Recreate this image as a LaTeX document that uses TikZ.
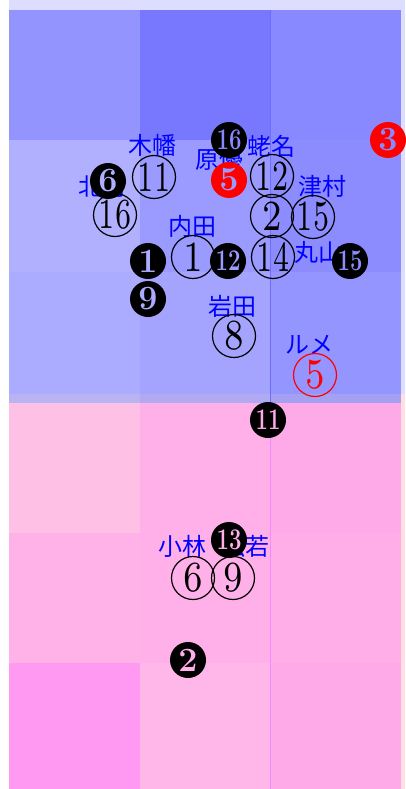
\documentclass[tikz,border=0pt]{standalone}
\usepackage{fontspec}
\usepackage{graphicx}
\newfontfamily\jpfont{Noto Sans CJK JP}
\newfontfamily\digfont{lmroman7-regular.otf}
\definecolor{lav}{HTML}{DDDDFF}
\definecolor{lpink}{HTML}{FFDFE2}
\definecolor{ba}{HTML}{9494FF}
\definecolor{bb}{HTML}{7878FF}
\definecolor{bc}{HTML}{8989FF}
\definecolor{bd}{HTML}{B0B0FF}
\definecolor{be}{HTML}{9A9AFF}
\definecolor{bf}{HTML}{8C8CFF}
\definecolor{bg}{HTML}{ABABFF}
\definecolor{bh}{HTML}{A4A4FF}
\definecolor{bi}{HTML}{9595FF}
\definecolor{xa}{HTML}{B8B4F4}
\definecolor{xb}{HTML}{B0AAF0}
\definecolor{xc}{HTML}{A4A0F2}
\definecolor{pa}{HTML}{FFC0E6}
\definecolor{pb}{HTML}{FFB0E8}
\definecolor{pc}{HTML}{FFAAE8}
\definecolor{pd}{HTML}{FFB2E8}
\definecolor{pe}{HTML}{FFB0E8}
\definecolor{pf}{HTML}{FFAEE8}
\definecolor{pg}{HTML}{FF99F2}
\definecolor{ph}{HTML}{FFB6E8}
\definecolor{pi}{HTML}{FFAAE8}
\definecolor{bline}{HTML}{6C6CFF}
\definecolor{pline}{HTML}{F08AFF}
\newcommand\onedig[1]{\makebox[0pt]{\scalebox{0.8}[1]{#1}}}
\newcommand\twodig[1]{\makebox[0pt]{\scalebox{0.66}[1]{#1}}}
\newcommand\fone[1]{\makebox[0pt]{#1}}
\newcommand\ftwo[1]{\makebox[0pt]{\fontsize{30}{30}\selectfont\scalebox{0.74}[1]{#1}}}
\begin{document}
\begin{tikzpicture}[x=1pt,y=-1pt,
  lbl/.style={text=blue,font=\jpfont\fontsize{24}{24}\selectfont,inner sep=0pt},
  oc/.style={circle,draw=black,line width=1.2pt,minimum size=43pt,inner sep=0pt,font=\digfont\fontsize{43}{43}\selectfont},
  fc/.style={circle,fill=black,minimum size=36pt,inner sep=0pt,font=\bfseries\fontsize{34}{34}\selectfont},
  rfc/.style={fc,fill=red},
  roc/.style={oc,draw=red,text=red}]
\useasboundingbox (0,0) rectangle (405,789);
% backgrounds
\fill[lav] (9,0) rectangle (405,394);
\fill[lpink] (9,394) rectangle (405,789);
% blue cells
\fill[ba] (9,10) rectangle (140,140);
\fill[bb] (140,10) rectangle (270,140);
\fill[bc] (270,10) rectangle (401,140);
\fill[bd] (9,140) rectangle (140,272);
\fill[be] (140,140) rectangle (270,272);
\fill[bf] (270,140) rectangle (401,272);
\fill[bg] (9,272) rectangle (140,394);
\fill[bh] (140,272) rectangle (270,394);
\fill[bi] (270,272) rectangle (401,394);
\fill[xa] (9,394) rectangle (140,403);
\fill[xb] (140,394) rectangle (270,403);
\fill[xc] (270,394) rectangle (401,403);
% pink cells
\fill[pa] (9,403) rectangle (140,533);
\fill[pb] (140,403) rectangle (270,533);
\fill[pc] (270,403) rectangle (401,533);
\fill[pd] (9,533) rectangle (140,663);
\fill[pe] (140,533) rectangle (270,663);
\fill[pf] (270,533) rectangle (401,663);
\fill[pg] (9,663) rectangle (140,789);
\fill[ph] (140,663) rectangle (270,789);
\fill[pi] (270,663) rectangle (401,789);
\draw[bline,line width=0.8pt] (270,10) -- (270,403);
\draw[pline,line width=0.8pt] (270,403) -- (270,789);
% labels
\node[lbl] (kohata) at (152,145) {木幡};
\node[lbl] (ebina) at (271,146) {蛯名};
\node[lbl] (hara) at (219,159) {原優};
\node[lbl] (kita) at (102,186) {北村};
\node[lbl] (tsumura) at (322,186) {津村};
\node[lbl] (uchida) at (192,226) {内田};
\node[lbl] (maru) at (318,252) {丸山};
\node[lbl] (iwata) at (232,306) {岩田};
\node[lbl] (lemaire) at (309,345) {ルメ};
\node[lbl] (koba) at (182,546) {小林};
\node[lbl] (matsu) at (245,546) {松若};
% open circles
\node[oc] (o11) at (154,177) {\twodig{11}};
\node[oc] (o16) at (115,215) {\twodig{16}};
\node[oc] (o12) at (272,176) {\twodig{12}};
\node[oc] (o2) at (272,216) {\onedig{2}};
\node[oc] (o15) at (313,217) {\twodig{15}};
\node[oc] (o1) at (193,257) {\onedig{1}};
\node[oc] (o14) at (273,257) {\twodig{14}};
\node[oc] (o8) at (234,336) {\onedig{8}};
\node[roc] (o5) at (315,375) {\onedig{5}};
\node[oc] (o6) at (193,578) {\onedig{6}};
\node[oc] (o9) at (233,578) {\onedig{9}};
% filled circles
\node[fc,text=bc] (f16) at (229,140) {\ftwo{16}};
\node[fc,text=bd] (f6) at (108,181) {\fone{6}};
\node[rfc,text=be] (f5) at (229,180) {\fone{5}};
\node[rfc,text=bc] (f3) at (388,140) {\fone{3}};
\node[fc,text=bg] (f1) at (148,261) {\fone{1}};
\node[fc,text=be] (f12) at (228,261) {\ftwo{12}};
\node[fc,text=bf] (f15) at (350,261) {\ftwo{15}};
\node[fc,text=bg] (f9) at (148,299) {\fone{9}};
\node[fc,text=pc] (f11) at (268,420) {\ftwo{11}};
\node[fc,text=pe] (f13) at (229,540) {\ftwo{13}};
\node[fc,text=pe] (f2) at (188,660) {\fone{2}};
\end{tikzpicture}
\end{document}
